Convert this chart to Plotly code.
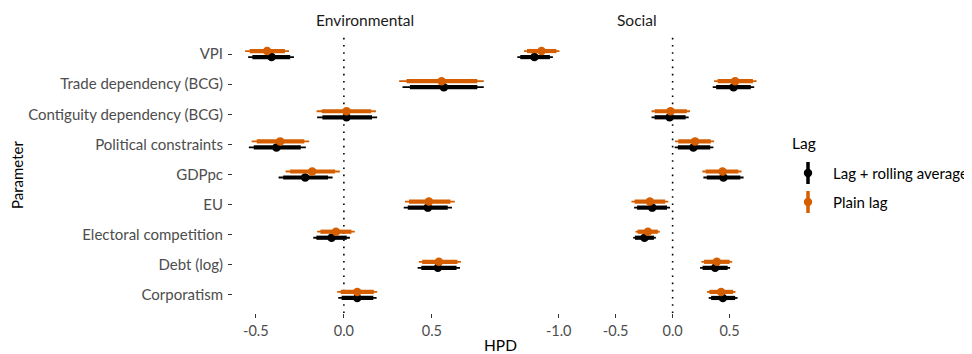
import plotly.graph_objects as go

# ---------------- data ----------------
params = ["VPI", "Trade dependency (BCG)", "Contiguity dependency (BCG)",
          "Political constraints", "GDPpc", "EU", "Electoral competition",
          "Debt (log)", "Corporatism"]
facets = ["Environmental", "Social"]
series_names = ["Lag + rolling average", "Plain lag"]

# Environmental - Plain lag
env_plain_pt = [-0.436, 0.555, 0.015, -0.362, -0.180, 0.483, -0.045, 0.540, 0.076]
env_plain_lo95 = [-0.561, 0.314, -0.155, -0.524, -0.331, 0.347, -0.152, 0.426, -0.038]
env_plain_hi95 = [-0.311, 0.795, 0.182, -0.197, -0.023, 0.630, 0.062, 0.665, 0.189]
env_plain_lo80 = [-0.535, 0.356, -0.125, -0.495, -0.305, 0.370, -0.133, 0.445, -0.018]
env_plain_hi80 = [-0.335, 0.758, 0.155, -0.225, -0.050, 0.605, 0.043, 0.645, 0.170]

# Environmental - Lag + rolling average
env_roll_pt = [-0.411, 0.568, 0.015, -0.383, -0.220, 0.477, -0.070, 0.534, 0.076]
env_roll_lo95 = [-0.544, 0.333, -0.152, -0.540, -0.371, 0.340, -0.174, 0.419, -0.032]
env_roll_hi95 = [-0.284, 0.795, 0.189, -0.216, -0.064, 0.614, 0.034, 0.660, 0.186]
env_roll_lo80 = [-0.520, 0.375, -0.122, -0.512, -0.345, 0.363, -0.156, 0.440, -0.013]
env_roll_hi80 = [-0.305, 0.758, 0.160, -0.245, -0.090, 0.590, 0.016, 0.640, 0.167]

# Social - Plain lag
soc_plain_pt = [-1.151, 0.549, -0.018, 0.197, 0.438, -0.200, -0.217, 0.388, 0.426]
soc_plain_lo95 = [-1.304, 0.364, -0.185, 0.021, 0.261, -0.361, -0.326, 0.253, 0.302]
soc_plain_hi95 = [-0.993, 0.737, 0.153, 0.364, 0.605, -0.038, -0.112, 0.523, 0.552]
soc_plain_lo80 = [-1.278, 0.395, -0.157, 0.050, 0.290, -0.334, -0.308, 0.276, 0.323]
soc_plain_hi80 = [-1.020, 0.705, 0.125, 0.335, 0.577, -0.065, -0.130, 0.500, 0.531]

# Social - Lag + rolling average
soc_roll_pt = [-1.213, 0.535, -0.026, 0.182, 0.446, -0.179, -0.247, 0.373, 0.441]
soc_roll_lo95 = [-1.363, 0.352, -0.185, 0.018, 0.270, -0.338, -0.346, 0.241, 0.317]
soc_roll_hi95 = [-1.051, 0.716, 0.141, 0.358, 0.623, -0.023, -0.147, 0.505, 0.570]
soc_roll_lo80 = [-1.337, 0.382, -0.158, 0.046, 0.300, -0.312, -0.330, 0.263, 0.338]
soc_roll_hi80 = [-1.077, 0.686, 0.114, 0.330, 0.594, -0.049, -0.164, 0.483, 0.549]

env_tickvals = [-0.5, 0.0, 0.5]
env_ticktext = ["-0.5", "0.0", "0.5"]
soc_tickvals = [-1.0, -0.5, 0.0, 0.5]
soc_ticktext = ["-1.0", "-0.5", "0.0", "0.5"]

# ---------------- style ----------------
OFF = 8                     # page body margin
W, H = 972 - OFF, 354 - OFF
COL_ROLL = "#000000"
COL_PLAIN = "#D55E00"
FONT = "Lato"
DODGE = 0.1

def px_x(p):
    return (p - OFF) / W

def px_y(p):
    return 1 - (p - OFF) / H

fig = go.Figure()

def add_series(xref, yref, pt, lo95, hi95, lo80, hi80, color, offset):
    ys = [i + offset for i in range(len(params))]
    xs, yy = [], []
    for y, a, b in zip(ys, lo95, hi95):
        xs += [a, b, None]
        yy += [y, y, None]
    fig.add_trace(go.Scatter(x=xs, y=yy, mode="lines", xaxis=xref, yaxis=yref,
                             line=dict(color=color, width=1.8), showlegend=False,
                             hoverinfo="skip"))
    xs, yy = [], []
    for y, a, b in zip(ys, lo80, hi80):
        xs += [a, b, None]
        yy += [y, y, None]
    fig.add_trace(go.Scatter(x=xs, y=yy, mode="lines", xaxis=xref, yaxis=yref,
                             line=dict(color=color, width=4.2), showlegend=False,
                             hoverinfo="skip"))
    fig.add_trace(go.Scatter(x=pt, y=ys, mode="markers", xaxis=xref, yaxis=yref,
                             marker=dict(color=color, size=8.5, line=dict(width=0)),
                             showlegend=False))

add_series("x", "y", env_roll_pt, env_roll_lo95, env_roll_hi95, env_roll_lo80, env_roll_hi80, COL_ROLL, DODGE)
add_series("x", "y", env_plain_pt, env_plain_lo95, env_plain_hi95, env_plain_lo80, env_plain_hi80, COL_PLAIN, -DODGE)
add_series("x2", "y", soc_roll_pt, soc_roll_lo95, soc_roll_hi95, soc_roll_lo80, soc_roll_hi80, COL_ROLL, DODGE)
add_series("x2", "y", soc_plain_pt, soc_plain_lo95, soc_plain_hi95, soc_plain_lo80, soc_plain_hi80, COL_PLAIN, -DODGE)

tickfont = dict(family=FONT, size=15, color="#4D4D4D")
xtickfont = dict(family=FONT, size=14.5, color="#4D4D4D")
common_x = dict(showgrid=False, zeroline=False, showline=False, ticks="outside",
                ticklen=4, tickwidth=1, tickcolor="#333333", tickfont=xtickfont,
                ticklabelstandoff=1)

fig.update_layout(
    width=W, height=H,
    margin=dict(l=0, r=0, t=0, b=0),
    paper_bgcolor="white", plot_bgcolor="white",
    showlegend=False,
    font=dict(family=FONT, size=14, color="#1A1A1A"),
    xaxis=dict(domain=[px_x(233), px_x(497)], range=[-0.63, 0.87], anchor="y",
               tickvals=env_tickvals, ticktext=env_ticktext, **common_x),
    xaxis2=dict(domain=[px_x(504), px_x(769)], range=[-1.48, 0.846], anchor="y",
                tickvals=soc_tickvals, ticktext=soc_ticktext, **common_x),
    yaxis=dict(domain=[px_y(313), px_y(36)], range=[8.6, -0.6], anchor="x",
               tickvals=list(range(len(params))), ticktext=params,
               showgrid=False, zeroline=False, showline=False, ticks="outside",
               ticklen=4, tickwidth=1, tickcolor="#333333", tickfont=tickfont,
               ticklabelstandoff=2),
)

# zero reference lines
for xr in ["x", "x2"]:
    fig.add_shape(type="line", xref=xr, yref="y domain", x0=0, x1=0, y0=0, y1=1,
                  line=dict(color="black", width=1.6, dash="1.6px,5.6px"), layer="below")

# facet titles
for name, cx in zip(facets, [365, 636.5]):
    fig.add_annotation(text=name, x=px_x(cx), y=px_y(20), xref="paper", yref="paper",
                       showarrow=False, xanchor="center", yanchor="middle",
                       font=dict(family=FONT, size=15.5, color="#1A1A1A"))

# axis titles
fig.add_annotation(text="HPD", x=px_x(501), y=px_y(345), xref="paper", yref="paper",
                   showarrow=False, xanchor="center", yanchor="middle",
                   font=dict(family=FONT, size=15.5, color="#000000"))
fig.add_annotation(text="Parameter", x=px_x(17), y=px_y(175), xref="paper", yref="paper",
                   showarrow=False, xanchor="center", yanchor="middle", textangle=-90,
                   font=dict(family=FONT, size=15, color="#000000"))

# manual legend (vertical pointrange keys like ggplot)
fig.add_annotation(text="Lag", x=px_x(790), y=px_y(143), xref="paper", yref="paper",
                   showarrow=False, xanchor="left", yanchor="middle",
                   font=dict(family=FONT, size=15.5, color="#000000"))
for name, col, cy in zip(series_names, [COL_ROLL, COL_PLAIN], [173, 202]):
    fig.add_shape(type="line", xref="paper", yref="paper",
                  x0=px_x(808), x1=px_x(808), y0=px_y(cy - 11), y1=px_y(cy + 11),
                  line=dict(color=col, width=3.5))
    fig.add_shape(type="circle", xref="paper", yref="paper",
                  xsizemode="pixel", ysizemode="pixel",
                  xanchor=px_x(808), yanchor=px_y(cy),
                  x0=-4.2, x1=4.2, y0=-4.2, y1=4.2,
                  fillcolor=col, line=dict(width=0))
    fig.add_annotation(text=name, x=px_x(831), y=px_y(cy), xref="paper", yref="paper",
                       showarrow=False, xanchor="left", yanchor="middle",
                       font=dict(family=FONT, size=15, color="#000000"))

fig.write_html("out.html")
